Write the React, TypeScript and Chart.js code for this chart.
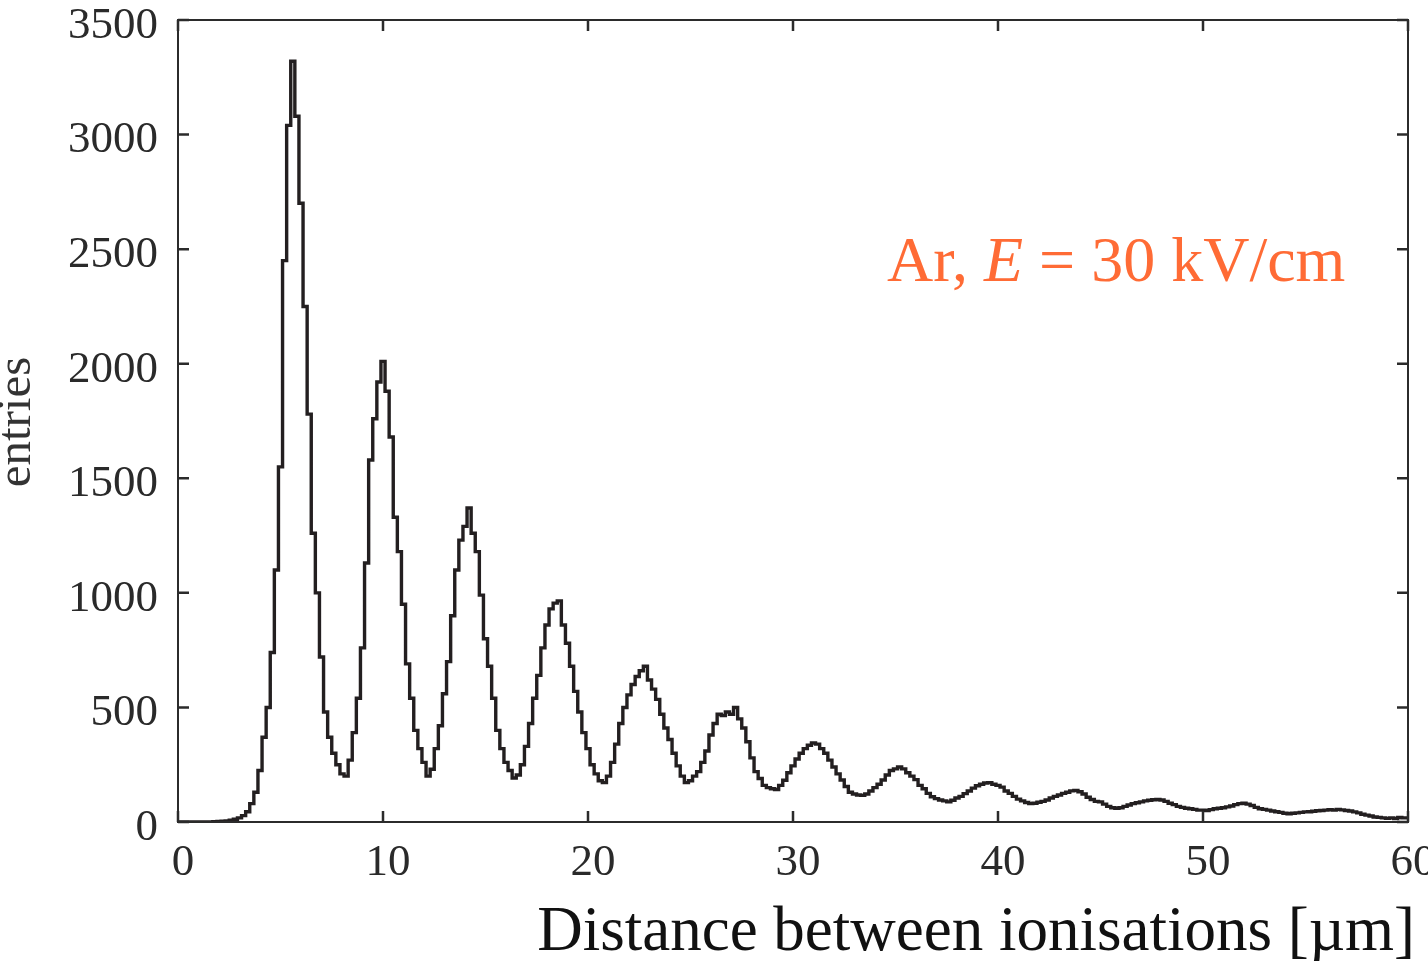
import React, { useEffect, useRef } from "react";
import { Chart, registerables } from "chart.js";
Chart.register(...registerables);

// Histogram: bin width 0.2 µm, values at bin centres 0.0, 0.2, 0.4, ...
const BIN_WIDTH = 0.2;
const counts: number[] = [
  0, 0, 0, 0, 0,
  0, 0, 0, 0, 1,
  2, 3, 5, 8, 12,
  18, 28, 45, 80, 130,
  225, 370, 500, 740, 1100,
  1550, 2450, 3040, 3320, 3080,
  2700, 2250, 1780, 1260, 1000,
  720, 480, 370, 300, 250,
  210, 200, 270, 390, 540,
  760, 1130, 1580, 1760, 1920,
  2010, 1880, 1680, 1330, 1180,
  950, 690, 540, 400, 320,
  260, 200, 230, 320, 420,
  560, 700, 900, 1100, 1230,
  1290, 1370, 1260, 1180, 990,
  800, 680, 540, 400, 320,
  260, 225, 192, 205, 250,
  330, 430, 540, 640, 760,
  860, 930, 955, 965, 860,
  780, 680, 570, 480, 390,
  320, 250, 210, 180, 172,
  200, 260, 340, 430, 500,
  555, 600, 635, 660, 680,
  620, 580, 535, 470, 410,
  360, 300, 245, 200, 172,
  180, 200, 220, 260, 310,
  380, 430, 470, 465, 480,
  470, 500, 450, 410, 350,
  280, 220, 190, 160, 150,
  145, 142, 160, 182, 215,
  245, 275, 300, 320, 335,
  345, 340, 320, 300, 270,
  240, 210, 183, 155, 130,
  122, 118, 116, 122, 135,
  150, 165, 183, 205, 225,
  232, 240, 232, 215, 200,
  185, 160, 145, 125, 110,
  102, 96, 92, 88, 95,
  105, 112, 124, 135, 148,
  158, 165, 170, 172, 165,
  160, 152, 135, 125, 112,
  100, 92, 85, 80, 82,
  86, 90, 96, 105, 112,
  118, 125, 130, 136, 138,
  132, 122, 108, 98, 90,
  88, 78, 68, 62, 60,
  62, 68, 74, 80, 84,
  88, 92, 95, 97, 98,
  96, 90, 82, 76, 68,
  64, 60, 58, 55, 52,
  52, 50, 54, 58, 60,
  62, 66, 70, 76, 80,
  82, 78, 72, 64, 58,
  55, 52, 48, 45, 42,
  38, 36, 38, 40, 42,
  44, 45, 47, 49, 50,
  52, 54, 52, 55, 53,
  50, 48, 44, 40, 34,
  30, 26, 22, 20, 18,
  16, 18, 15, 20, 18,
];

const xTicks = [0, 10, 20, 30, 40, 50, 60];
const yTicks = [0, 500, 1000, 1500, 2000, 2500, 3000, 3500];
const xTitle = "Distance between ionisations [µm]";
const yTitle = "entries";
const annotationParts = [
  { text: "Ar, ", italic: false },
  { text: "E", italic: true },
  { text: " = 30 kV/cm", italic: false },
];

const FONT = '"Liberation Serif", "Times New Roman", serif';
const AXIS_COLOR = "#2b2b2b";
const LINE_COLOR = "#231f20";
const ANNO_COLOR = "#ff6b35";

const framePlugin = {
  id: "frame",
  afterDraw(chart: any) {
    const { ctx, chartArea } = chart;
    const xs = chart.scales.x;
    const ys = chart.scales.y;
    const { left, right, top, bottom } = chartArea;
    ctx.save();
    ctx.strokeStyle = AXIS_COLOR;
    ctx.lineWidth = 2;
    ctx.strokeRect(left, top, right - left, bottom - top);
    ctx.lineWidth = 2.5;
    const tl = 11;
    ctx.beginPath();
    for (const v of yTicks) {
      const y = ys.getPixelForValue(v);
      ctx.moveTo(left, y);
      ctx.lineTo(left + tl, y);
      ctx.moveTo(right, y);
      ctx.lineTo(right - tl, y);
    }
    for (const v of xTicks) {
      const x = xs.getPixelForValue(v);
      ctx.moveTo(x, bottom);
      ctx.lineTo(x, bottom - tl);
      ctx.moveTo(x, top);
      ctx.lineTo(x, top + tl);
    }
    ctx.stroke();
    ctx.fillStyle = "#2a2a2a";
    ctx.font = `45px ${FONT}`;
    ctx.textAlign = "right";
    ctx.textBaseline = "middle";
    for (const v of yTicks) {
      ctx.fillText(String(v), left - 20, ys.getPixelForValue(v) + 6);
    }
    ctx.textAlign = "center";
    for (const v of xTicks) {
      ctx.fillText(String(v), xs.getPixelForValue(v) + 5, bottom + 41);
    }
    ctx.fillStyle = "#111";
    ctx.font = `63px ${FONT}`;
    ctx.textAlign = "right";
    ctx.textBaseline = "alphabetic";
    ctx.fillText(xTitle, 1415, 950);
    ctx.save();
    ctx.translate(30, 422);
    ctx.rotate(-Math.PI / 2);
    ctx.font = `49px ${FONT}`;
    ctx.fillStyle = "#333";
    ctx.textAlign = "center";
    ctx.fillText(yTitle, 0, 0);
    ctx.restore();
    ctx.fillStyle = ANNO_COLOR;
    ctx.textAlign = "left";
    let ax = 887;
    for (const p of annotationParts) {
      ctx.font = `${p.italic ? "italic " : ""}64px ${FONT}`;
      ctx.fillText(p.text, ax, 281);
      ax += ctx.measureText(p.text).width;
    }
    ctx.restore();
  },
};

export default function App() {
  const ref = useRef<HTMLCanvasElement | null>(null);
  useEffect(() => {
    if (!ref.current) return;
    const points = counts.map((c, i) => ({ x: i * BIN_WIDTH, y: c }));
    points.push({ x: counts.length * BIN_WIDTH, y: counts[counts.length - 1] });
    const chart = new Chart(ref.current, {
      type: "line",
      data: {
        datasets: [
          {
            data: points,
            stepped: "middle",
            borderColor: LINE_COLOR,
            borderWidth: 3.4,
            pointRadius: 0,
            fill: false,
          },
        ],
      },
      options: {
        animation: false,
        responsive: false,
        devicePixelRatio: 1,
        layout: { padding: { left: 178, right: 20, top: 20, bottom: 139 } },
        plugins: { legend: { display: false }, tooltip: { enabled: false } },
        scales: {
          x: { type: "linear", min: 0, max: 60, display: false },
          y: { type: "linear", min: 0, max: 3500, display: false },
        },
      },
      plugins: [framePlugin],
    });
    return () => chart.destroy();
  }, []);
  return (
    <div style={{ position: "absolute", left: 0, top: 0, width: 1428, height: 961, background: "#fff" }}>
      <canvas ref={ref} width={1428} height={961} />
    </div>
  );
}
